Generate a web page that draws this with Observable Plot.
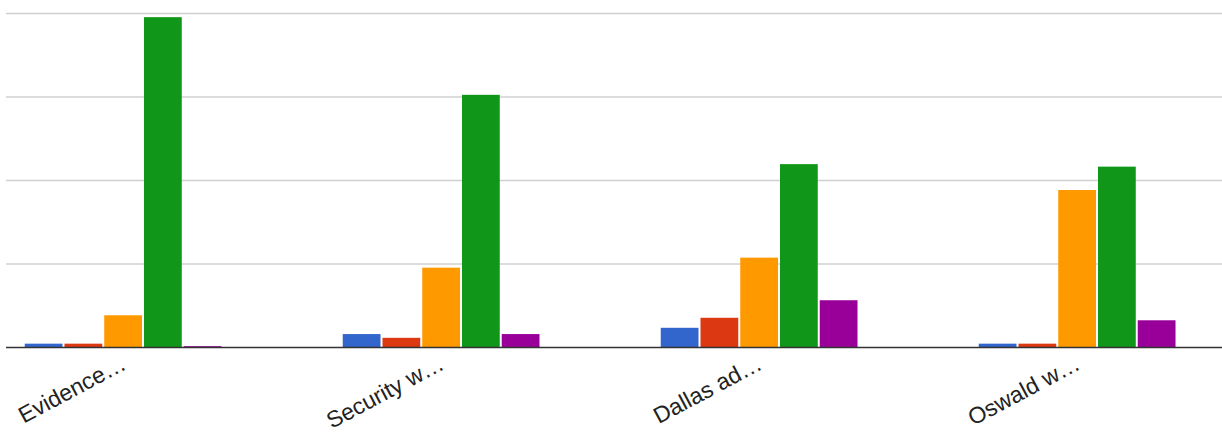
<!DOCTYPE html>
<html><head><meta charset="utf-8">
<script src="https://cdn.jsdelivr.net/npm/d3@7"></script>
<script src="https://cdn.jsdelivr.net/npm/@observablehq/plot@0.6"></script>
<style>body{margin:0;background:#fff;overflow:hidden;} svg{display:block;}</style>
</head><body><div id="chart"></div>
<script>
const categories = ["Evidence…", "Security w…", "Dallas ad…", "Oswald w…"];
const seriesNames = ["Series 1", "Series 2", "Series 3", "Series 4", "Series 5"];
const seriesColors = ["#3366cc", "#dc3912", "#ff9900", "#109618", "#990099"];
const series1 = [0.4, 1.55, 2.3, 0.4];
const series2 = [0.4, 1.1, 3.5, 0.4];
const series3 = [3.8, 9.5, 10.7, 18.8];
const series4 = [39.5, 30.2, 21.9, 21.6];
const series5 = [0.1, 1.55, 5.6, 3.2];
const yTicks = [0, 10, 20, 30, 40];

const allSeries = [series1, series2, series3, series4, series5];
const data = [];
categories.forEach((c, i) => {
  seriesNames.forEach((s, j) => {
    data.push({category: c, series: s, value: allSeries[j][i], key: c + "|" + s});
  });
});
const xDomain = [];
categories.forEach(c => {
  xDomain.push(c + "|pre");
  seriesNames.forEach(s => xDomain.push(c + "|" + s));
  xDomain.push(c + "|post1", c + "|post2");
});
const labelKeys = categories.map(c => ({category: c, key: c + "|" + seriesNames[2]}));

const chart = Plot.plot({
  width: 1222,
  height: 435,
  marginTop: 13,
  marginBottom: 88,
  marginLeft: 6,
  marginRight: 0,
  style: {fontFamily: "'Liberation Sans', Arial, sans-serif", background: "#fff"},
  x: {domain: xDomain, range: [-17, 1257], padding: 0.05, round: false, axis: null},
  y: {domain: [yTicks[0], yTicks[yTicks.length - 1]], axis: null},
  color: {domain: seriesNames, range: seriesColors},
  marks: [
    Plot.ruleY(yTicks.slice(1), {stroke: "#d0d0d0", strokeWidth: 1.5}),
    Plot.barY(data, {x: "key", y: "value", fill: "series"}),
    Plot.ruleY([0], {stroke: "#333", strokeWidth: 1.5}),
    Plot.text(labelKeys, {
      x: "key", text: "category", frameAnchor: "bottom",
      rotate: -28, textAnchor: "end", dx: 4, dy: 21,
      fontSize: 23, fill: "#222"
    })
  ]
});
document.getElementById("chart").appendChild(chart);
</script>
</body></html>
